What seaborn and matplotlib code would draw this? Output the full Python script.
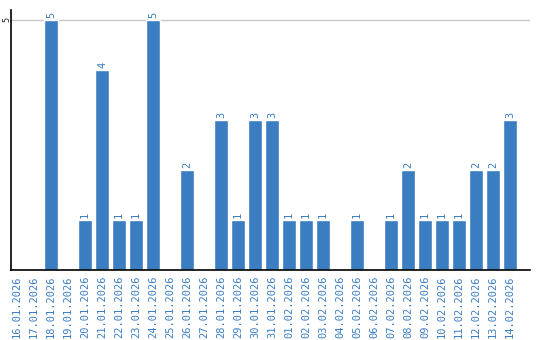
import matplotlib
matplotlib.use("Agg")
import matplotlib.pyplot as plt
import seaborn as sns
import pandas as pd

dates = ["16.01.2026", "17.01.2026", "18.01.2026", "19.01.2026", "20.01.2026",
         "21.01.2026", "22.01.2026", "23.01.2026", "24.01.2026", "25.01.2026",
         "26.01.2026", "27.01.2026", "28.01.2026", "29.01.2026", "30.01.2026",
         "31.01.2026", "01.02.2026", "02.02.2026", "03.02.2026", "04.02.2026",
         "05.02.2026", "06.02.2026", "07.02.2026", "08.02.2026", "09.02.2026",
         "10.02.2026", "11.02.2026", "12.02.2026", "13.02.2026", "14.02.2026"]
counts = [0, 0, 5, 0, 1, 4, 1, 1, 5, 0, 2, 0, 3, 1, 3, 3, 1, 1, 1, 0,
          1, 0, 1, 2, 1, 1, 1, 2, 2, 3]

df = pd.DataFrame({"date": dates, "count": counts})

sns.set_style("white")
plt.rcParams['font.family'] = ['DejaVu Sans Mono', 'DejaVu Sans']

BLUE = "#3b7dc1"
fig = plt.figure(figsize=(5.4, 3.4), dpi=100)
ax = fig.add_axes([11/540, 1 - 270/340, 519/540, 260/340])

sns.barplot(data=df, x="date", y="count", color=BLUE, width=0.82,
            saturation=1, ax=ax, order=dates)

ax.set_xlim(-0.353, 30.18)
ax.set_ylim(0, 5.2)
ax.set_yticks([5])
ax.set_yticklabels(["5"], rotation=90, va="center", ha="center", fontsize=6)
ax.axhline(5, color="#c8c8c8", lw=1, zorder=0)
ax.set_xlabel("")
ax.set_ylabel("")
ax.tick_params(axis="x", labelrotation=90, labelsize=7.5, labelcolor=BLUE,
               length=0, pad=4)
ax.tick_params(axis="y", length=0, pad=3)
for s in ["top", "right"]:
    ax.spines[s].set_visible(False)
for s in ["left", "bottom"]:
    ax.spines[s].set_color("black")
    ax.spines[s].set_linewidth(1.2)

for i, v in enumerate(counts):
    if v > 0:
        ax.text(i, v + 0.03, str(v), rotation=90, ha="center", va="bottom",
                color=BLUE, fontsize=7.5)

fig.savefig("out.png", dpi=100)
